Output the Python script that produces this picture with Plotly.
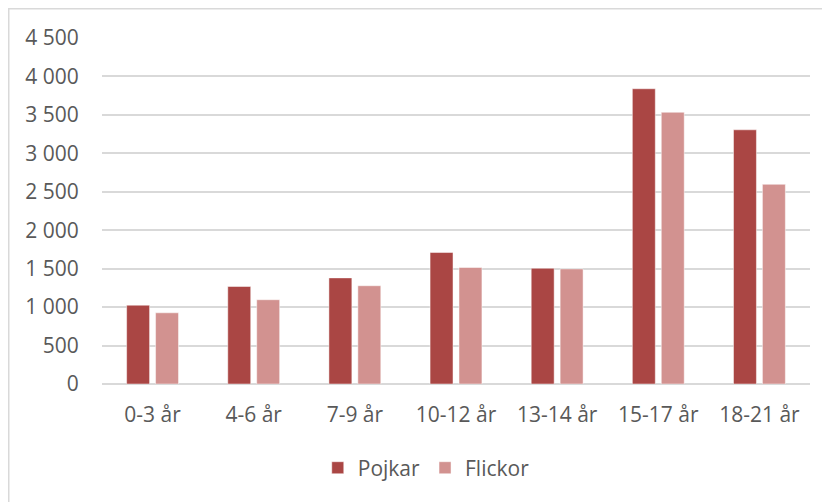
import plotly.graph_objects as go

categories = ["0-3 år", "4-6 år", "7-9 år", "10-12 år", "13-14 år", "15-17 år", "18-21 år"]
pojkar = [1025, 1268, 1380, 1710, 1505, 3840, 3306]
flickor = [926, 1096, 1278, 1515, 1497, 3534, 2597]
y_tickvals = [0, 500, 1000, 1500, 2000, 2500, 3000, 3500, 4000, 4500]
y_ticktext = ["0", "500", "1 000", "1 500", "2 000", "2 500", "3 000", "3 500", "4 000", "4 500"]

FONT = "Open Sans"
TXT = "#595959"
GRID = "#D9D9D9"

ML, MR, MT, MB = 94, 28, 30, 126
PW = 830 - ML - MR
PH = 502 - MT - MB

fig = go.Figure()
fig.add_trace(go.Bar(name="Pojkar", x=categories, y=pojkar,
                     marker=dict(color="#AA4644", line=dict(color="rgba(255,255,255,0.6)", width=0.8))))
fig.add_trace(go.Bar(name="Flickor", x=categories, y=flickor,
                     marker=dict(color="#D29290", line=dict(color="rgba(255,255,255,0.6)", width=0.8))))

fig.update_layout(
    width=830, height=502,
    margin=dict(l=ML, r=MR, t=MT, b=MB),
    paper_bgcolor="white", plot_bgcolor="white",
    barmode="group", bargap=0.428, bargroupgap=0.207,
    font=dict(family=FONT, size=21, color=TXT),
    showlegend=True,
    legend=dict(orientation="h", x=0.458, xanchor="center", y=-0.243, yanchor="middle",
                font=dict(family=FONT, size=21, color=TXT), itemwidth=30,
                bgcolor="rgba(0,0,0,0)"),
    shapes=[dict(type="rect", xref="paper", yref="paper",
                 x0=-(ML - 0.75) / PW, x1=1 + (MR - 0.75) / PW,
                 y0=-(MB - 0.75) / PH, y1=1 + (MT - 0.75) / PH,
                 line=dict(color=GRID, width=1.5), fillcolor="rgba(0,0,0,0)", layer="below")],
)
fig.update_xaxes(showgrid=False, showline=False, zeroline=False,
                 ticks="outside", ticklen=12, tickcolor="rgba(0,0,0,0)",
                 tickfont=dict(family=FONT, size=21, color=TXT))
fig.update_yaxes(range=[0, 4500], tickvals=y_tickvals, ticktext=y_ticktext,
                 showgrid=True, gridcolor=GRID, gridwidth=1.5,
                 zeroline=True, zerolinecolor=GRID, zerolinewidth=1.5, showline=False,
                 ticks="outside", ticklen=18, tickcolor="rgba(0,0,0,0)",
                 tickfont=dict(family=FONT, size=21, color=TXT))

fig.write_html("out.html")
